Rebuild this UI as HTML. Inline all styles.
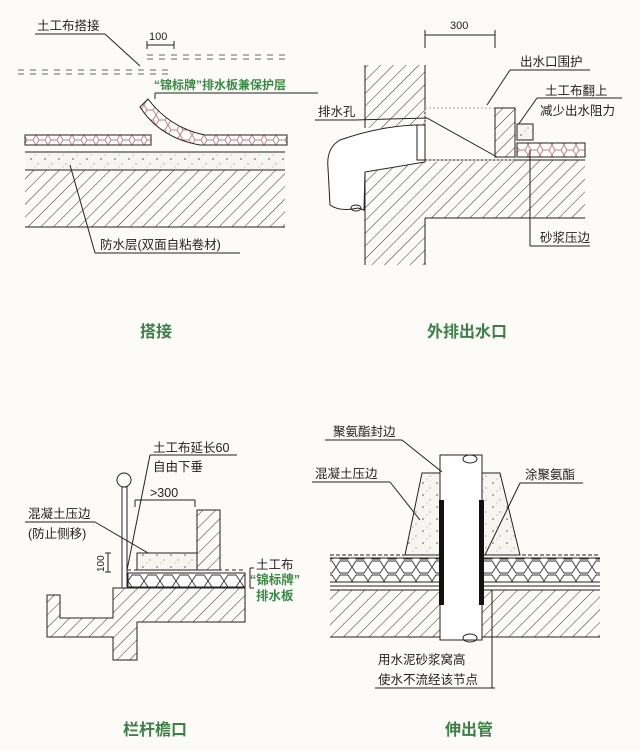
<!DOCTYPE html>
<html><head><meta charset="utf-8"><style>
html,body{margin:0;padding:0;background:#fcfbf8}
svg{display:block}
text{font-family:"Liberation Sans","Noto Sans CJK SC",sans-serif;fill:#222}
.t{font-size:12.5px}
.g{fill:#3a8a44;font-weight:bold}
.ti{font-size:16px;font-weight:bold;fill:#3d7f47}
</style></head><body>
<svg width="640" height="751" viewBox="0 0 640 751" xmlns="http://www.w3.org/2000/svg">
<defs>
<pattern id="h" width="9" height="9" patternUnits="userSpaceOnUse" patternTransform="rotate(45)">
<line x1="0" y1="0" x2="0" y2="9" stroke="#333" stroke-width="1"/></pattern>
<pattern id="hex" width="12" height="10" patternUnits="userSpaceOnUse">
<rect width="12" height="10" fill="#fff"/>
<path d="M0 5 L3 0 L9 0 L12 5 L9 10 L3 10 Z" fill="none" stroke="#c77" stroke-width="0.9"/></pattern>
<pattern id="hexb" width="16" height="14" patternUnits="userSpaceOnUse">
<rect width="16" height="14" fill="#fff"/>
<path d="M0 7 L4 1 L12 1 L16 7 L12 13 L4 13 Z" fill="none" stroke="#333" stroke-width="0.9"/></pattern>
<pattern id="dots" width="14" height="12" patternUnits="userSpaceOnUse">
<rect width="14" height="12" fill="#f6f5f2"/>
<circle cx="3" cy="3" r="0.8" fill="#555"/><circle cx="10" cy="8" r="0.6" fill="#777"/><circle cx="7" cy="11" r="0.5" fill="#888"/></pattern>
</defs>
<g fill="none" stroke="#222" stroke-width="1">
<!-- Panel 1 -->
<g stroke="#666" stroke-dasharray="6,6"><line x1="147" y1="55" x2="290" y2="55"/><line x1="147" y1="59" x2="290" y2="59"/><line x1="18" y1="70" x2="174" y2="70"/><line x1="18" y1="74" x2="174" y2="74"/></g>
<line x1="35" y1="34" x2="105" y2="34"/><line x1="105" y1="34" x2="140" y2="66"/>
<line x1="147" y1="45" x2="174" y2="45"/><line x1="147" y1="41" x2="147" y2="49"/><line x1="174" y1="41" x2="174" y2="49"/>
<line x1="155" y1="93" x2="318" y2="93"/><line x1="155" y1="93" x2="155" y2="99"/>
<rect x="25" y="135" width="126" height="10" fill="url(#hex)"/>
<path d="M140 107 L148 99 Q170 128 205 135 L287 135 L287 145 L200 145 Q160 138 140 107 Z" fill="url(#hex)"/>
<rect x="25" y="152" width="260" height="18" fill="url(#dots)" stroke="none"/>
<line x1="25" y1="152" x2="285" y2="152"/><line x1="25" y1="170" x2="285" y2="170"/>
<rect x="25" y="170" width="260" height="57" fill="url(#h)" stroke="none"/>
<line x1="25" y1="227" x2="285" y2="227"/>
<line x1="70" y1="165" x2="95" y2="253"/><line x1="95" y1="253" x2="240" y2="253"/>
<!-- Panel 2 -->
<line x1="425" y1="35" x2="495" y2="35"/><line x1="425" y1="30" x2="425" y2="48"/><line x1="495" y1="30" x2="495" y2="48"/>
<path d="M365 65 L425 65 L425 128 L365 128 Z" fill="url(#h)" stroke="none"/>
<line x1="365" y1="65" x2="365" y2="128"/><line x1="425" y1="65" x2="425" y2="128"/>
<path d="M365 170 L425 162 L585 160 L585 218 L425 218 L425 265 L365 265 Z" fill="url(#h)" stroke="none"/>
<line x1="365" y1="170" x2="365" y2="265"/><line x1="425" y1="218" x2="425" y2="265"/>
<line x1="425" y1="160" x2="585" y2="160"/><line x1="425" y1="218" x2="585" y2="218"/>
<rect x="425" y="108" width="90" height="52" stroke="#aaa" stroke-dasharray="2,2"/>
<rect x="495" y="108" width="20" height="49" fill="url(#h)"/>
<path d="M425 125 L417 125 Q380 126 340 140 Q326 148 328 168 L330 205 Q340 212 358 208 L364 210 L365 172 L425 162 Z" fill="#fff"/>
<rect x="417" y="125" width="8" height="35" fill="#fff"/>
<ellipse cx="356" cy="208" rx="5" ry="3"/>
<line x1="315" y1="120" x2="355" y2="120"/><polyline points="355,120 427,118 497,157"/>
<line x1="510" y1="70" x2="590" y2="70"/><line x1="510" y1="70" x2="487" y2="105"/>
<line x1="537" y1="98" x2="622" y2="98"/><line x1="537" y1="98" x2="518" y2="125"/>
<rect x="517" y="124" width="16" height="16" fill="url(#dots)"/>
<rect x="517" y="143" width="68" height="14" fill="url(#hex)"/>
<line x1="530" y1="150" x2="530" y2="246"/><line x1="530" y1="246" x2="590" y2="246"/>
<!-- Panel 3 -->
<circle cx="124" cy="480" r="7" fill="#fff"/>
<rect x="122" y="487" width="5" height="101" fill="#fff"/>
<line x1="150" y1="455" x2="237" y2="455"/><line x1="150" y1="455" x2="127" y2="570"/>
<line x1="135" y1="500" x2="195" y2="500"/><line x1="135" y1="500" x2="135" y2="507"/><line x1="195" y1="500" x2="195" y2="507"/>
<rect x="197" y="510" width="23" height="60" fill="url(#h)"/>
<line x1="25" y1="522" x2="95" y2="522"/><line x1="95" y1="522" x2="160" y2="560"/>
<rect x="137" y="553" width="60" height="17" fill="url(#dots)"/>
<line x1="108" y1="553" x2="108" y2="572"/><line x1="105" y1="553" x2="111" y2="553"/><line x1="105" y1="572" x2="111" y2="572"/>
<line x1="127" y1="570" x2="245" y2="570" stroke-dasharray="4,3"/>
<rect x="128" y="573" width="117" height="14" fill="url(#hexb)"/>
<line x1="250" y1="568" x2="250" y2="588"/><line x1="250" y1="568" x2="254" y2="568"/><line x1="250" y1="588" x2="254" y2="588"/>
<path d="M47 595 L60 595 L60 618 L113 618 L113 588 L245 588 L245 622 L137 622 L137 660 L113 660 L113 637 L47 637 Z" fill="url(#h)"/>
<!-- Panel 4 -->
<path d="M422 473 L500 473 L520 555 L405 555 Z" fill="url(#dots)"/>
<rect x="330" y="558" width="270" height="24" fill="url(#hexb)" stroke="none"/>
<line x1="330" y1="555" x2="600" y2="555" stroke-dasharray="4,2"/>
<line x1="330" y1="558" x2="600" y2="558"/><line x1="330" y1="582" x2="600" y2="582"/>
<line x1="330" y1="586" x2="600" y2="586"/>
<rect x="330" y="590" width="270" height="47" fill="url(#h)" stroke="none"/>
<line x1="330" y1="590" x2="600" y2="590"/><line x1="330" y1="637" x2="600" y2="637"/>
<rect x="440" y="455" width="42" height="185" fill="#fff"/>
<ellipse cx="470" cy="459" rx="7" ry="4"/><ellipse cx="470" cy="638" rx="7" ry="4"/>
<rect x="439" y="500" width="5" height="105" fill="#111" stroke="none"/>
<rect x="479" y="500" width="5" height="105" fill="#111" stroke="none"/>
<line x1="325" y1="440" x2="402" y2="440"/><line x1="402" y1="440" x2="442" y2="472"/>
<line x1="312" y1="482" x2="390" y2="482"/><line x1="390" y1="482" x2="420" y2="520"/>
<line x1="520" y1="483" x2="583" y2="483"/><line x1="520" y1="483" x2="485" y2="555"/>
<line x1="375" y1="688" x2="495" y2="688"/><line x1="492" y1="688" x2="492" y2="590"/>
</g>
<g class="t">
<text x="37" y="30">土工布搭接</text>
<text x="149" y="40" font-size="11">100</text>
<text x="154" y="89" class="g" font-size="12">“锦标牌”排水板兼保护层</text>
<text x="100" y="249">防水层(双面自粘卷材)</text>
<text x="450" y="29" font-size="11">300</text>
<text x="520" y="66">出水口围护</text>
<text x="545" y="95">土工布翻上</text>
<text x="540" y="115">减少出水阻力</text>
<text x="318" y="116">排水孔</text>
<text x="540" y="242">砂浆压边</text>
<text x="153" y="452">土工布延长60</text>
<text x="153" y="471">自由下垂</text>
<text x="150" y="497">&gt;300</text>
<text x="28" y="518">混凝土压边</text>
<text x="28" y="538">(防止侧移)</text>
<text x="0" y="0" font-size="10" transform="translate(104,572) rotate(-90)">100</text>
<text x="256" y="569">土工布</text>
<text x="250" y="584" class="g">“锦标牌”</text>
<text x="256" y="600" class="g">排水板</text>
<text x="333" y="436">聚氨酯封边</text>
<text x="315" y="478">混凝土压边</text>
<text x="525" y="479">涂聚氨酯</text>
<text x="378" y="664">用水泥砂浆窝高</text>
<text x="378" y="684">使水不流经该节点</text>
</g>
<text class="ti" x="140" y="337">搭接</text>
<text class="ti" x="427" y="337">外排出水口</text>
<text class="ti" x="123" y="735">栏杆檐口</text>
<text class="ti" x="445" y="735">伸出管</text>
</svg>
</body></html>
